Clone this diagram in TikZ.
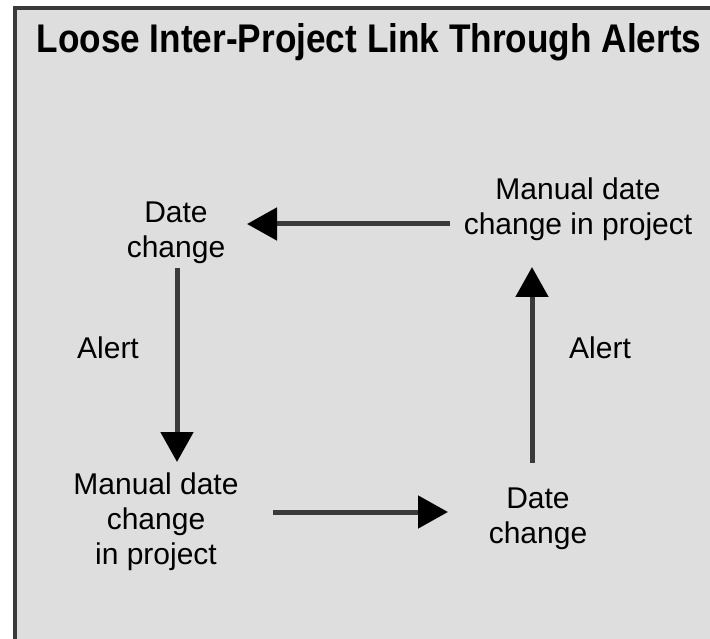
\documentclass[tikz,border=0pt]{standalone}
\usepackage{fontspec}
\setmainfont{Liberation Sans}
\usetikzlibrary{arrows.meta}
\definecolor{dither}{RGB}{222,222,222}
\definecolor{linegray}{RGB}{58,58,58}

\begin{document}
\begin{tikzpicture}[x=1pt, y=-1pt,
        label/.style={font=\fontsize{30}{35}\selectfont, align=center, inner sep=0pt},
        link/.style={linegray, line width=5pt, -{Triangle[length=30pt, width=32pt, color=black, fill=black]}}]
        \useasboundingbox (0,0) rectangle (710,639);
        \fill[dither] (15,8) rectangle (712,641);
        \draw[linegray, line width=4pt] (15,641) -- (15,8) -- (712,8);

        \node[font=\fontsize{40}{48}\selectfont\bfseries, xscale=0.88, anchor=base] (title) at (369,53) {Loose Inter-Project Link Through Alerts};

        \node[label] (dtl) at (176,233) {Date\\change};
        \node[label] (mtr) at (578,209) {Manual date\\change in project};
        \node[label] (mbl) at (156,522) {Manual date\\change\\in project};
        \node[label] (dbr) at (538,519) {Date\\change};
        \node[label] (alertl) at (108,348) {Alert};
        \node[label] (alertr) at (600,348) {Alert};

        % arrow ends
        \coordinate (topa) at (450,224);
        \coordinate (topb) at (247,224);
        \coordinate (lefta) at (177,268);
        \coordinate (leftb) at (177,462);
        \coordinate (bota) at (273,512);
        \coordinate (botb) at (448,512);
        \coordinate (righta) at (532,463);
        \coordinate (rightb) at (532,267);

        \draw[link] (topa) -- (topb);
        \draw[link] (lefta) -- (leftb);
        \draw[link] (bota) -- (botb);
        \draw[link] (righta) -- (rightb);
    \end{tikzpicture}
\end{document}
